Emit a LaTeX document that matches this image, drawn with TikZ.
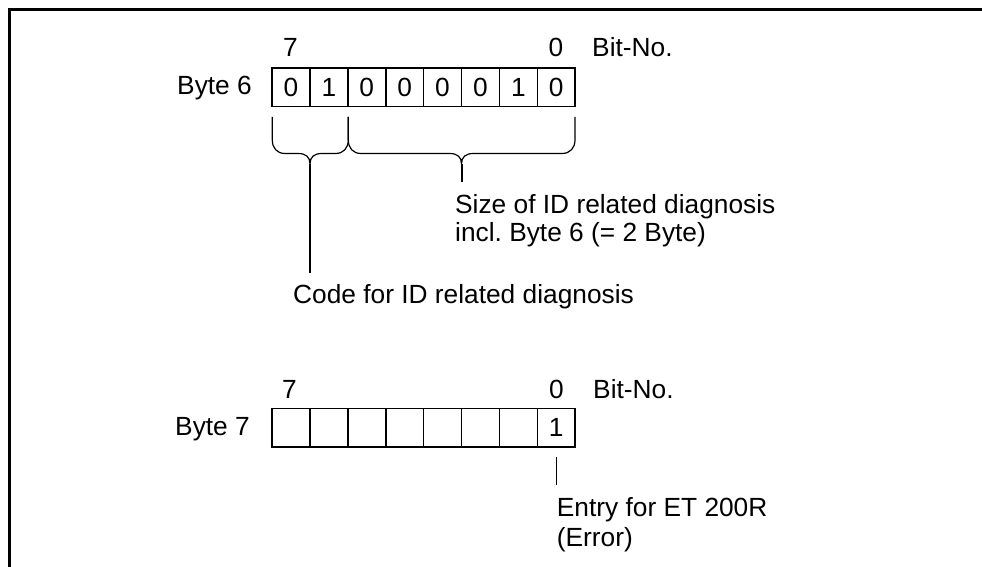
\documentclass[tikz,border=0pt]{standalone}
\usepackage{fontspec}
\setmainfont{Liberation Sans}
\begin{document}
\frenchspacing
\begin{tikzpicture}[x=1pt,y=-1pt,
  txt/.style={font=\fontsize{26.3}{28.5}\selectfont, inner sep=0pt},
  cell/.style={draw, line width=1.6pt, minimum width=37.9pt, minimum height=38.4pt, inner sep=0pt, font=\fontsize{26.3}{28}\selectfont},
  brace/.style={line width=1.2pt},
  stem/.style={line width=2pt},
  frame/.style={line width=2.6pt}]
\useasboundingbox (0,0) rectangle (982,567);
\draw[frame] (9.3,570) -- (9.3,9.3) -- (985,9.3);

% Byte 6
\foreach \b/\v [count=\i] in {7/0,6/1,5/0,4/0,3/0,2/0,1/1,0/0}
  \node[cell] (a\b) at ({272+37.9*(\i-0.5)},87.5) {\v};
\node[txt, anchor=base east] (byte6) at (252,95) {Byte 6};
\node[txt, anchor=base] (a7n) at (290.5,57) {7};
\node[txt, anchor=base] (a0n) at (556,57) {0};
\node[txt, anchor=base west] (abit) at (592,57) {Bit-No.};

% braces
\coordinate (tip1) at (310,164);
\coordinate (tip2) at (461.5,164);
\draw[brace] (272.3,117) -- (272.3,140) .. controls (272.3,148) and (277,153.5) .. (285,153.5)
  -- (298,153.5) .. controls (306,153.5) and (310,157) .. (tip1)
  .. controls (310,157) and (314,153.5) .. (322,153.5) -- (335.5,153.5)
  .. controls (343.5,153.5) and (348.3,148) .. (348.3,140) -- (348.3,117);
\draw[brace] (348.3,117) -- (348.3,140) .. controls (348.3,148) and (353,153.5) .. (361,153.5)
  -- (449.5,153.5) .. controls (457.5,153.5) and (461.5,157) .. (tip2)
  .. controls (461.5,157) and (465.5,153.5) .. (473.5,153.5) -- (562,153.5)
  .. controls (570,153.5) and (575,148) .. (575,140) -- (575,117);

\node[txt, anchor=base west, align=left] (size) at (455,241.7) {Size of ID related diagnosis\\incl. Byte 6 (= 2 Byte)};
\node[txt, anchor=base west] (code) at (293,303) {Code for ID related diagnosis};
\coordinate (s1e) at (310,273);
\coordinate (s2e) at (461.5,181.7);
\draw[stem] (tip1) -- (s1e);
\draw[stem] (tip2) -- (s2e);

% Byte 7
\foreach \b/\v [count=\i] in {7/,6/,5/,4/,3/,2/,1/,0/1}
  \node[cell] (c\b) at ({272+37.9*(\i-0.5)},427.5) {\v};
\node[txt, anchor=base east] (byte7) at (250,435) {Byte 7};
\node[txt, anchor=base] (c7n) at (289.5,398) {7};
\node[txt, anchor=base] (c0n) at (556.5,398) {0};
\node[txt, anchor=base west] (cbit) at (593,398) {Bit-No.};
\coordinate (s3b) at (c0.center |- 0,457);
\coordinate (s3e) at (c0.center |- 0,485);
\draw[stem, line width=1.4pt] (s3b) -- (s3e);
\node[txt, anchor=base west, align=left, font=\fontsize{26.3}{30}\selectfont] (entry) at (556.7,546) {Entry for ET 200R\\(Error)};
\end{tikzpicture}
\end{document}
